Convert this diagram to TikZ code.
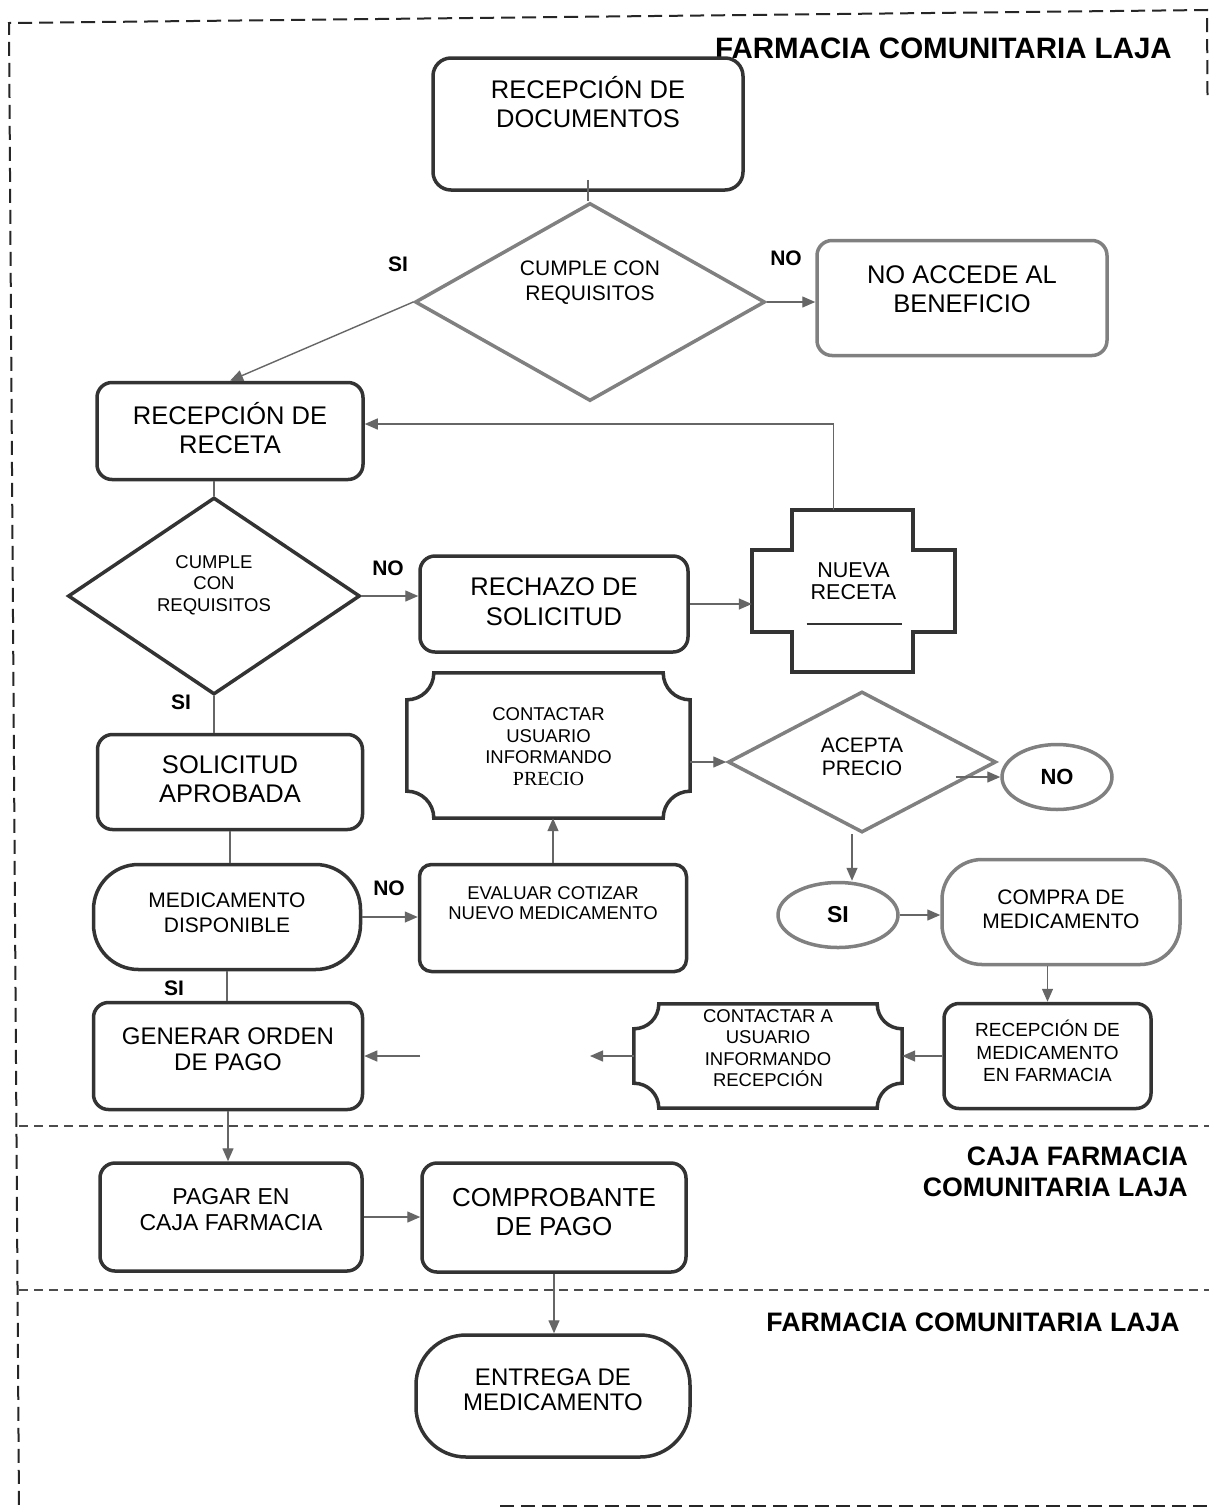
\documentclass[tikz,border=0pt]{standalone}
\usepackage{fontspec}
\setmainfont{Liberation Sans}
\newfontfamily\serifpr{Liberation Serif}
\usetikzlibrary{shapes.geometric,arrows.meta,calc}
\newcommand{\drawplaque}[3]{%
  \draw[boxline] ([yshift=-#2pt]#1.north west) .. controls +(#3pt,0pt) and +(0pt,-#3pt) .. ([xshift=#2pt]#1.north west)
   -- ([xshift=-#2pt]#1.north east) .. controls +(0pt,-#3pt) and +(-#3pt,0pt) .. ([yshift=-#2pt]#1.north east)
   -- ([yshift=#2pt]#1.south east) .. controls +(-#3pt,0pt) and +(0pt,#3pt) .. ([xshift=-#2pt]#1.south east)
   -- ([xshift=#2pt]#1.south west) .. controls +(0pt,#3pt) and +(#3pt,0pt) .. ([yshift=#2pt]#1.south west) -- cycle;}
\begin{document}
\begin{tikzpicture}[x=1pt,y=-1pt,
  box/.style={draw=black!80, line width=3.5pt, rounded corners=15pt, inner sep=0pt},
  lbox/.style={draw=black!50, line width=3.5pt, inner sep=0pt},
  boxline/.style={draw=black!80, line width=3.5pt},
  lab/.style={align=center, text=black, inner sep=0pt},
  conn/.style={draw=black!60, line width=1.4pt},
  arr/.style={conn, -{Triangle[length=13pt,width=11pt]}},
  yn/.style={font=\bfseries\fontsize{21}{24}\selectfont, inner sep=0pt},
  hdr/.style={inner sep=0pt, anchor=east, align=right},
  border/.style={draw=black!85, line width=2pt, dash pattern=on 14pt off 7pt},
  sepline/.style={draw=black!70, line width=1.3pt, dash pattern=on 9pt off 6pt}
]
\fill[white] (0,0) rectangle (1209,1508);
\useasboundingbox (0,0) rectangle (1209,1508);

% frame and lane separators
\draw[border] (1207.5,95) -- (1207,10) -- (9,23) -- (19,1508);
\draw[sepline] (19,1126) -- (1209,1126);
\draw[sepline] (19,1290) -- (1209,1290);
\draw[border] (500,1506) -- (1209,1506);

% headers
\node[hdr, font=\bfseries\fontsize{29.5}{33}\selectfont] (h1) at (1172,48) {FARMACIA COMUNITARIA LAJA};
\node[hdr, font=\bfseries\fontsize{26.7}{31}\selectfont] (h2) at (1188,1172) {CAJA FARMACIA\\COMUNITARIA LAJA};
\node[hdr, font=\bfseries\fontsize{26.7}{31}\selectfont] (h3) at (1180,1322) {FARMACIA COMUNITARIA LAJA};

% nodes
\node[box, rounded corners=18pt, minimum width=310pt, minimum height=132pt,
  label={[lab,font=\fontsize{25.5}{29}\selectfont,yshift=21.5pt]center:RECEPCIÓN DE\\DOCUMENTOS}] (doc) at (588,124) {};
\node[lbox, diamond, minimum width=350pt, minimum height=198pt,
  label={[lab,font=\fontsize{21}{25}\selectfont,yshift=19.5pt]center:CUMPLE CON\\REQUISITOS}] (q1) at (590,302) {};
\node[lbox, rounded corners=15pt, minimum width=290pt, minimum height=115pt,
  label={[lab,font=\fontsize{25.5}{29}\selectfont,yshift=8.5pt]center:NO ACCEDE AL\\BENEFICIO}] (na) at (962,298) {};
\node[box, minimum width=266pt, minimum height=97pt,
  label={[lab,font=\fontsize{25.5}{29}\selectfont,yshift=3pt]center:RECEPCIÓN DE\\RECETA}] (rr) at (230,431) {};
\node[diamond, draw=black!80, line width=3.5pt, inner sep=0pt, minimum width=292pt, minimum height=197pt,
  label={[lab,font=\fontsize{18.5}{21.5}\selectfont,yshift=11pt]center:CUMPLE\\CON\\REQUISITOS}] (q2) at (214,596) {};
\node[box, minimum width=268pt, minimum height=96pt,
  label={[lab,font=\fontsize{25.5}{30}\selectfont,yshift=2pt]center:RECHAZO DE\\SOLICITUD}] (rj) at (554,604) {};
\node[inner sep=0pt, minimum width=203pt, minimum height=162pt,
  label={[lab,font=\fontsize{21.5}{22}\selectfont,yshift=10pt]center:NUEVA\\RECETA}] (nr) at (853.5,591) {};
\node[inner sep=0pt, minimum width=283pt, minimum height=145pt,
  label={[lab,font=\fontsize{18.5}{21.5}\selectfont,yshift=-1pt]center:CONTACTAR\\USUARIO\\INFORMANDO\\{\serifpr\fontsize{20}{21.5}\selectfont PRECIO}}] (cup) at (548.5,745.5) {};
\node[lbox, diamond, minimum width=268pt, minimum height=141pt,
  label={[lab,font=\fontsize{21}{23}\selectfont,yshift=5pt]center:ACEPTA\\PRECIO}] (ap) at (862,762) {};
\node[lbox, ellipse, minimum width=110pt, minimum height=65pt,
  font=\bfseries\fontsize{22}{24}\selectfont] (noe) at (1057,777) {NO};
\node[lbox, ellipse, minimum width=120pt, minimum height=65pt,
  font=\bfseries\fontsize{23}{25}\selectfont] (sie) at (838,915) {SI};
\node[box, minimum width=265pt, minimum height=95pt,
  label={[lab,font=\fontsize{25.5}{29}\selectfont,yshift=3pt]center:SOLICITUD\\APROBADA}] (sa) at (230,782) {};
\node[lbox, rounded corners=40pt, minimum width=238pt, minimum height=105pt,
  label={[lab,font=\fontsize{21}{24}\selectfont,yshift=3pt]center:COMPRA DE\\MEDICAMENTO}] (cp) at (1061,912) {};
\node[box, rounded corners=45pt, minimum width=267pt, minimum height=105pt,
  label={[lab,font=\fontsize{21}{25}\selectfont,yshift=4.5pt]center:MEDICAMENTO\\DISPONIBLE}] (md) at (227,917) {};
\node[box, rounded corners=12pt, minimum width=267pt, minimum height=107pt,
  label={[lab,font=\fontsize{18.5}{20.5}\selectfont,yshift=15pt]center:EVALUAR COTIZAR\\NUEVO MEDICAMENTO}] (ev) at (553,918) {};
\node[box, minimum width=269pt, minimum height=107pt,
  label={[lab,font=\fontsize{24}{26}\selectfont,yshift=7pt]center:GENERAR ORDEN\\DE PAGO}] (gop) at (228,1056) {};
\node[inner sep=0pt, minimum width=268pt, minimum height=104pt,
  label={[lab,font=\fontsize{18.5}{21.5}\selectfont,yshift=8pt]center:CONTACTAR A\\USUARIO\\INFORMANDO\\RECEPCIÓN}] (cr) at (768,1056) {};
\node[box, minimum width=207pt, minimum height=105pt,
  label={[lab,font=\fontsize{19}{22.5}\selectfont,yshift=5pt]center:RECEPCIÓN DE\\MEDICAMENTO\\EN FARMACIA}] (rm) at (1047.5,1056) {};
\node[box, minimum width=262pt, minimum height=108pt,
  label={[lab,font=\fontsize{23}{25.5}\selectfont,yshift=7.5pt]center:PAGAR EN\\CAJA FARMACIA}] (pg) at (231,1217) {};
\node[box, minimum width=264pt, minimum height=109pt,
  label={[lab,font=\fontsize{26}{29}\selectfont,yshift=5pt]center:COMPROBANTE\\DE PAGO}] (cb) at (554,1217.5) {};
\node[box, rounded corners=50pt, minimum width=274pt, minimum height=122pt,
  label={[lab,font=\fontsize{24}{25.5}\selectfont,yshift=6.5pt]center:ENTREGA DE\\MEDICAMENTO}] (en) at (553,1396) {};

% special shapes
\drawplaque{cup}{27}{15}
\drawplaque{cr}{25}{14}
\draw[boxline, line join=miter]
  ([xshift=40pt]nr.north west) -- ([xshift=-42pt]nr.north east) -- ([xshift=-42pt,yshift=-40pt]nr.north east)
  -- ([yshift=-40pt]nr.north east) -- ([yshift=40pt]nr.south east) -- ([xshift=-42pt,yshift=40pt]nr.south east)
  -- ([xshift=-42pt]nr.south east) -- ([xshift=40pt]nr.south west) -- ([xshift=40pt,yshift=40pt]nr.south west)
  -- ([yshift=40pt]nr.south west) -- ([yshift=-40pt]nr.north west) -- ([xshift=40pt,yshift=-40pt]nr.north west) -- cycle;
\draw[draw=black!80, line width=1.5pt] ([xshift=-47pt,yshift=-33pt]nr.center) -- ([xshift=48pt,yshift=-33pt]nr.center);

% yes / no labels
\node[yn] (si1) at (398,264) {SI};
\node[yn] (no1) at (786,258) {NO};
\node[yn] (no2) at (388,568) {NO};
\node[yn] (si2) at (181,702) {SI};
\node[yn] (no3) at (389,888) {NO};
\node[yn] (si3) at (174,988) {SI};

% free ends of the broken connector
\coordinate (gapR) at (590,1056);
\coordinate (gapL) at (420,1056);

% connectors
\draw[conn] ([yshift=12pt]doc.south) -- (doc.south |- q1.north);
\draw[arr] (q1.west) -- (rr.north);
\draw[arr] (q1.east) -- (q1.east -| na.west);
\draw[conn] (q2.north |- rr.south) -- (q2.north);
\draw[arr] (q2.east) -- (q2.east -| rj.west);
\draw[arr] (rj.east) -- (rj.east -| nr.west);
\draw[arr] ([xshift=-20pt]nr.north) |- ([yshift=7pt]rr.east);
\draw[conn] (q2.south) -- (q2.south |- sa.north);
\draw[conn] (sa.south) -- (sa.south |- md.north);
\draw[arr] (md.east) -- (md.east -| ev.west);
\draw[conn] (md.south) -- (md.south |- gop.north);
\draw[arr] (ev.north) -- (ev.north |- cup.south);
\draw[arr] (cup.east |- ap.west) -- (ap.west);
\draw[arr] (ap.east |- noe.west) ++(-42pt,0pt) -- (noe.west);
\draw[arr] ([xshift=-10pt]ap.south) -- ([xshift=-10pt]ap.south |- sie.north);
\draw[arr] (sie.east) -- (sie.east -| cp.west);
\draw[arr] (rm.north |- cp.south) -- (rm.north);
\draw[arr] (rm.west) -- (rm.west -| cr.east);
\draw[arr] (cr.west) -- (gapR);
\draw[arr] (gapL) -- (gapL -| gop.east);
\draw[arr] (gop.south) -- (gop.south |- pg.north);
\draw[arr] (pg.east) -- (pg.east -| cb.west);
\draw[arr] (cb.south) -- (cb.south |- en.north);
\end{tikzpicture}
\end{document}
